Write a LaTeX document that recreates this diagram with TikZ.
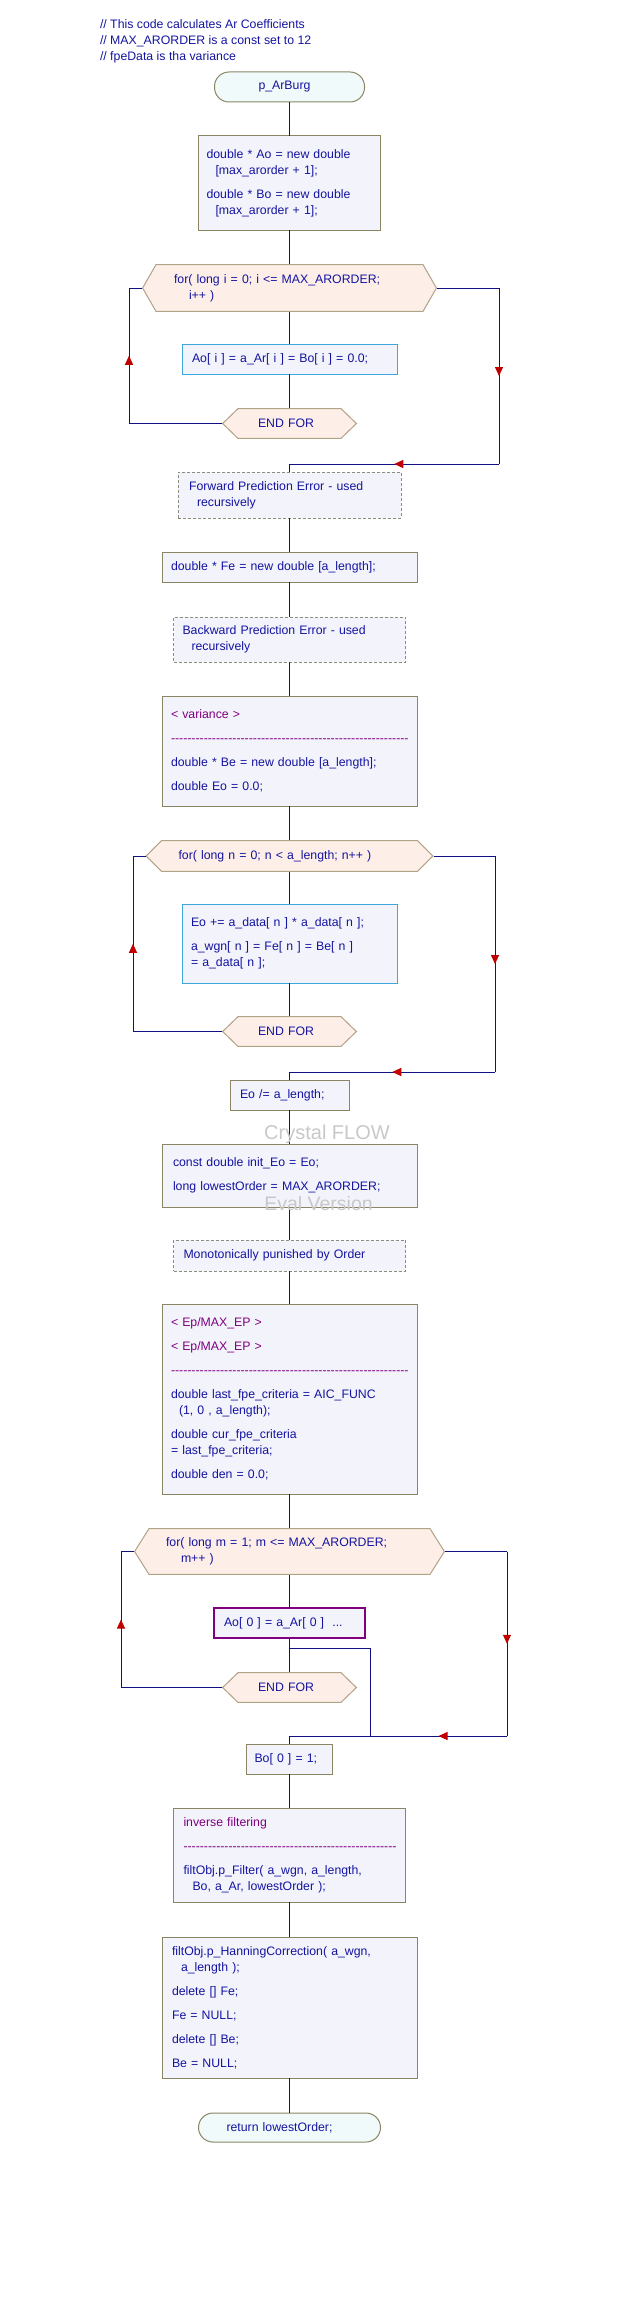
\documentclass[tikz,border=0pt]{standalone}
\usepackage{fontspec}
\setmainfont{Liberation Sans}
\usepackage{tikz}
\usetikzlibrary{positioning,arrows.meta,calc,decorations.markings}
\definecolor{CodeBlue}{HTML}{1414A0}
\definecolor{FlowNavy}{HTML}{101080}
\definecolor{TipRed}{HTML}{C00000}
\definecolor{BoxFill}{HTML}{F3F3FC}
\definecolor{BoxLine}{HTML}{8A8664}
\definecolor{HexFill}{HTML}{FDEFE8}
\definecolor{HexLine}{HTML}{B2A286}
\definecolor{LoopLine}{HTML}{3FA6DE}
\definecolor{NoteLine}{HTML}{8C8C7C}
\definecolor{TermFill}{HTML}{F1FAFA}
\definecolor{NotePurple}{HTML}{800080}
\definecolor{MarkGray}{HTML}{C8C8C8}
\newcommand{\sepline}[1]{\mbox{\color{NotePurple}\foreach\k in {1,...,#1}{-\kern0bp}}}

\tikzset{
  codetext/.style={font=\fontsize{12.3bp}{16bp}\selectfont, text=CodeBlue, align=left, inner ysep=0pt, outer sep=0pt},
  wpad/.style 2 args={text width=#1, inner xsep=#2},
  procbox/.style={codetext, draw=BoxLine, fill=BoxFill, line width=1bp},
  notebox/.style={codetext, draw=NoteLine, fill=BoxFill, line width=1bp, dash pattern=on 3bp off 2bp},
  loopbox/.style={codetext, draw=LoopLine, fill=BoxFill, line width=1bp},
  callbox/.style={codetext, draw=NotePurple, fill=BoxFill, line width=2.5bp},
  termbox/.style={codetext, draw=BoxLine, fill=TermFill, line width=1bp, rounded corners=14.5bp},
  hexbox/.style={codetext, fill=white, path picture={
    \path[draw=HexLine, fill=HexFill, line width=1bp]
      ([xshift=.6bp]path picture bounding box.west)
      -- ([xshift=#1, yshift=-.6bp]path picture bounding box.north west)
      -- ([xshift=-#1, yshift=-.6bp]path picture bounding box.north east)
      -- ([xshift=-.6bp]path picture bounding box.east)
      -- ([xshift=-#1, yshift=.6bp]path picture bounding box.south east)
      -- ([xshift=#1, yshift=.6bp]path picture bounding box.south west) -- cycle;}},
  flow/.style={draw=FlowNavy, line width=1bp},
  midtip/.style={postaction={decorate}, decoration={markings,
    mark=at position 0.5 with {\arrow{Triangle[length=9bp,width=8bp,color=TipRed]}}}},
}

\begin{document}
\begin{tikzpicture}[x=1bp,y=-1bp]
\useasboundingbox (0,0) rectangle (624,2312);

\node[codetext, anchor=north west, inner sep=0pt] (notes) at (100,19.5)
  {// This code calculates Ar Coefficients\\// MAX\_ARORDER is a const set to 12\\// fpeData is tha variance};

\node[termbox, wpad={62bp}{44bp}, minimum height=30bp] (start) at (289.5,87) {p\_ArBurg};
\node[procbox, wpad={166bp}{8bp}, minimum height=94bp] (alloc) at (289.5,183)
  {double * Ao = new double\\\hspace*{9bp}[max\_arorder + 1];\\[8bp]double * Bo = new double\\\hspace*{9bp}[max\_arorder + 1];};
\node[hexbox=14bp, wpad={231bp}{32bp}, minimum height=48bp] (forI) at (289.5,288)
  {for( long i = 0; i <= MAX\_ARORDER;\\\hspace*{15bp}i++ )};
\node[loopbox, wpad={195bp}{10bp}, minimum height=30bp] (zeroI) at (289.5,359) {Ao[ i ] = a\_Ar[ i ] = Bo[ i ] = 0.0;};
\node[hexbox=16bp, wpad={63bp}{36bp}, minimum height=31bp] (endI) at (289.5,423.5) {END FOR};
\node[notebox, wpad={201bp}{11bp}, minimum height=46bp] (fwdNote) at (289.5,495)
  {Forward Prediction Error - used\\\hspace*{8bp}recursively};
\node[procbox, wpad={237bp}{9bp}, minimum height=30bp] (feAlloc) at (289.5,567) {double * Fe = new double [a\_length];};
\node[notebox, wpad={214bp}{9bp}, minimum height=45bp] (bwdNote) at (289.5,639.5)
  {Backward Prediction Error - used\\\hspace*{9bp}recursively};
\node[procbox, wpad={237bp}{9bp}, minimum height=110bp] (variance) at (289.5,751)
  {\textcolor{NotePurple}{< variance >}\\[8bp]\sepline{58}\\[8bp]double * Be = new double [a\_length];\\[8bp]double Eo = 0.0;};
\node[hexbox=16bp, wpad={222bp}{33bp}, minimum height=32bp] (forN) at (289.5,856) {for( long n = 0; n < a\_length; n++ )};
\node[loopbox, wpad={197bp}{9bp}, minimum height=79bp] (sumN) at (289.5,943.5)
  {Eo += a\_data[ n ] * a\_data[ n ];\\[8bp]a\_wgn[ n ] = Fe[ n ] = Be[ n ]\\= a\_data[ n ];};
\node[hexbox=16bp, wpad={63bp}{36bp}, minimum height=31bp] (endN) at (289.5,1031.5) {END FOR};
\node[procbox, wpad={99bp}{10bp}, minimum height=30bp] (eoDiv) at (289.5,1095) {Eo /= a\_length;};
\node[procbox, wpad={233bp}{11bp}, minimum height=63bp] (initEo) at (289.5,1175.5)
  {const double init\_Eo = Eo;\\[8bp]long lowestOrder = MAX\_ARORDER;};
\node[notebox, wpad={212bp}{10bp}, minimum height=31bp] (monoNote) at (289.5,1255.5) {Monotonically punished by Order};
\node[procbox, wpad={237bp}{9bp}, minimum height=190bp] (fpeInit) at (289.5,1399)
  {\textcolor{NotePurple}{< Ep/MAX\_EP >}\\[8bp]\textcolor{NotePurple}{< Ep/MAX\_EP >}\\[8bp]\sepline{58}\\[8bp]double last\_fpe\_criteria = AIC\_FUNC\\\hspace*{8bp}(1, 0 , a\_length);\\[8bp]double cur\_fpe\_criteria\\= last\_fpe\_criteria;\\[8bp]double den = 0.0;};
\node[hexbox=15bp, wpad={247bp}{32bp}, minimum height=47bp] (forM) at (289.5,1551.5)
  {for( long m = 1; m <= MAX\_ARORDER;\\\hspace*{15bp}m++ )};
\node[callbox, wpad={131bp}{10bp}, minimum height=30bp] (arStep) at (289.5,1623) {Ao[ 0 ] = a\_Ar[ 0 ]\ \ ...};
\node[hexbox=16bp, wpad={63bp}{36bp}, minimum height=31bp] (endM) at (289.5,1687.5) {END FOR};
\node[procbox, wpad={70bp}{8bp}, minimum height=30bp] (boSet) at (289.5,1759) {Bo[ 0 ] = 1;};
\node[procbox, wpad={212bp}{10bp}, minimum height=94bp] (invFilt) at (289.5,1855)
  {\textcolor{NotePurple}{inverse filtering}\\[8bp]\sepline{52}\\[8bp]filtObj.p\_Filter( a\_wgn, a\_length,\\\hspace*{9bp}Bo, a\_Ar, lowestOrder );};
\node[procbox, wpad={235bp}{10bp}, minimum height=141bp] (cleanup) at (289.5,2007.5)
  {filtObj.p\_HanningCorrection( a\_wgn,\\\hspace*{9bp}a\_length );\\[8bp]delete [] Fe;\\[8bp]Fe = NULL;\\[8bp]delete [] Be;\\[8bp]Be = NULL;};
\node[termbox, wpad={126bp}{28bp}, minimum height=29bp] (ret) at (289.5,2127.5) {return lowestOrder;};

\foreach \a/\b in {start/alloc, alloc/forI, forI/zeroI, zeroI/endI, fwdNote/feAlloc, feAlloc/bwdNote,
    bwdNote/variance, variance/forN, forN/sumN, sumN/endN, eoDiv/initEo, initEo/monoNote,
    monoNote/fpeInit, fpeInit/forM, forM/arStep, arStep/endM, boSet/invFilt, invFilt/cleanup, cleanup/ret}
  \draw[flow] (\a.south) -- (\b.north);

\coordinate (backI) at (129,0);
\coordinate (skipI) at (499,464);
\draw[flow] (endI.west) -- (backI |- endI.west) edge[midtip] (backI |- forI.west) (backI |- forI.west) -- (forI.west);
\draw[flow] (forI.east) -- (skipI |- forI.east) edge[midtip] (skipI) (skipI) edge[midtip] (fwdNote.north |- skipI)
  (fwdNote.north |- skipI) -- (fwdNote.north);

\coordinate (backN) at (133,0);
\coordinate (skipN) at (495,1072);
\draw[flow] (endN.west) -- (backN |- endN.west) edge[midtip] (backN |- forN.west) (backN |- forN.west) -- (forN.west);
\draw[flow] (forN.east) -- (skipN |- forN.east) edge[midtip] (skipN) (skipN) edge[midtip] (eoDiv.north |- skipN)
  (eoDiv.north |- skipN) -- (eoDiv.north);

\coordinate (backM) at (121,0);
\coordinate (skipM) at (507,1736);
\coordinate (exitM) at (370,1648);
\draw[flow] (endM.west) -- (backM |- endM.west) edge[midtip] (backM |- forM.west) (backM |- forM.west) -- (forM.west);
\draw[flow] (forM.east) -- (skipM |- forM.east) edge[midtip] (skipM) (skipM) edge[midtip] (exitM |- skipM)
  (exitM |- skipM) -- (boSet.north |- skipM) -- (boSet.north);
\draw[flow] (arStep.south |- exitM) -- (exitM) -- (exitM |- skipM);

\node[text=MarkGray, font=\fontsize{20bp}{22bp}\selectfont] (markA) at (327,1134.5) {Crystal FLOW};
\node[text=MarkGray, font=\fontsize{19.5bp}{22bp}\selectfont] (markB) at (318.5,1203.5) {Eval Version};
\end{tikzpicture}
\end{document}
